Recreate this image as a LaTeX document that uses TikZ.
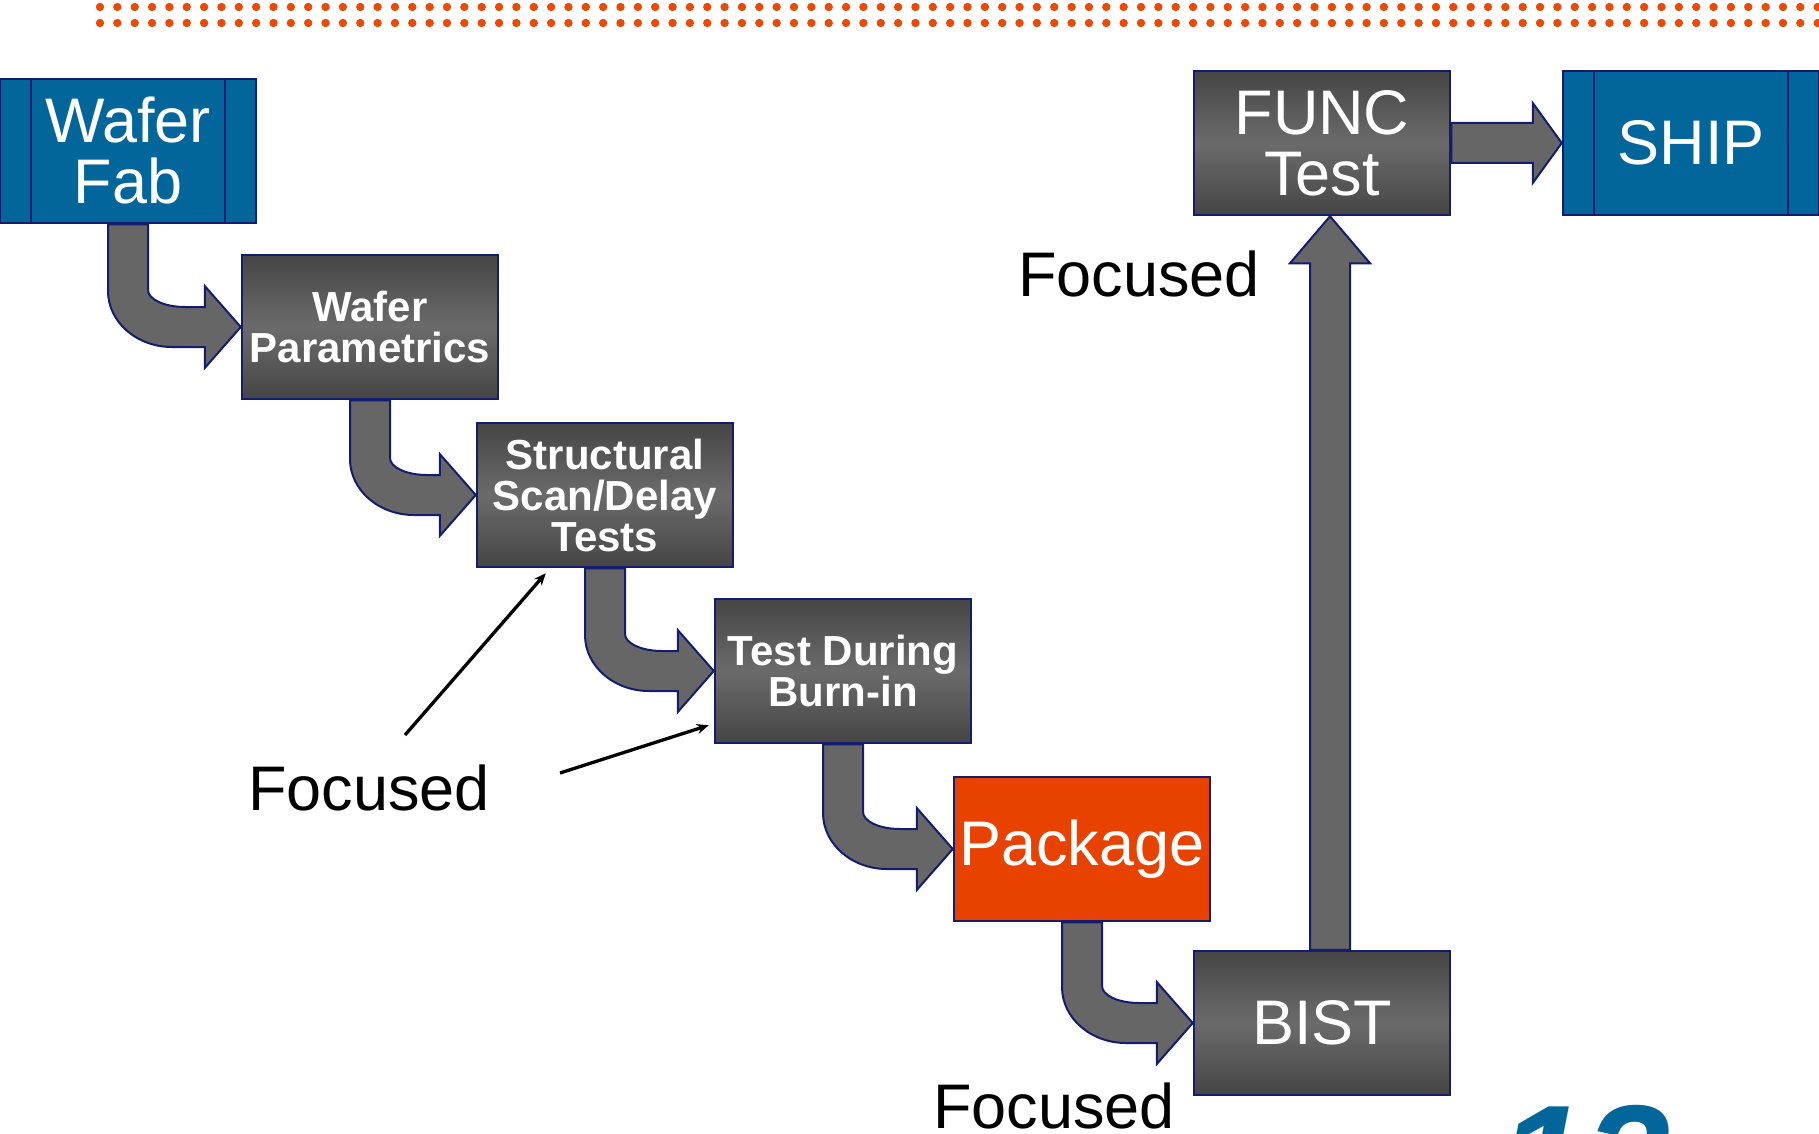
\documentclass[tikz,border=0pt]{standalone}
\usepackage{fontspec}
\setmainfont{Liberation Sans}
\usetikzlibrary{calc,arrows.meta}
\definecolor{fabblue}{HTML}{03669A}
\definecolor{pkgorange}{HTML}{E84200}
\definecolor{dotorange}{HTML}{E84A08}
\definecolor{edge}{HTML}{141C6E}
\definecolor{boxdark}{HTML}{454545}
\definecolor{boxlight}{HTML}{6B6B6B}
\definecolor{pipegray}{HTML}{666666}

\begin{document}
\begin{tikzpicture}[x=1pt, y=-1pt,
  stage/.style={draw=edge, line width=2.5pt, top color=boxdark, bottom color=boxdark, middle color=boxlight, minimum width=256pt, minimum height=144pt, inner sep=0pt, text=white, align=center},
  small/.style={font=\fontsize{42}{41}\selectfont\bfseries},
  big/.style={font=\fontsize{63}{61}\selectfont},
  endblock/.style={draw=edge, line width=2.5pt, fill=fabblue, minimum width=256pt, minimum height=144pt, inner sep=0pt, text=white, align=center, big,
    path picture={\draw[edge, line width=2pt] ([xshift=31pt]path picture bounding box.north west) -- ([xshift=31pt]path picture bounding box.south west)
      ([xshift=-31pt]path picture bounding box.north east) -- ([xshift=-31pt]path picture bounding box.south east);}},
  pipe/.style={draw=edge, line width=2pt, fill=pipegray, line join=miter},
  pointer/.style={-{Stealth[length=12pt,width=10pt]}, line width=3.3pt},
  label/.style={anchor=base, big}]
\clip (0,0) rectangle (1819,1134);

% dotted rule along the top
\foreach \i in {0,...,99} {
  \fill[dotorange] (100+17.35*\i,7) circle (4.2pt);
  \fill[dotorange] (100+17.35*\i,23) circle (4.2pt);
}

\node[endblock] (fab) at (128,151) {Wafer\\Fab};
\node[stage, small] (param) at (370,327) {Wafer\\Parametrics};
\node[stage, small] (scan) at (605,495) {Structural\\Scan/Delay\\Tests};
\node[stage, small] (burn) at (843,671) {Test During\\Burn-in};
\node[stage, big, fill=pkgorange, top color=pkgorange, bottom color=pkgorange, middle color=pkgorange] (pkg) at (1082,849) {Package};
\node[stage, big] (bist) at (1322,1023) {BIST};
\node[stage, big] (func) at (1322,143) {FUNC\\Test};
\node[endblock] (ship) at (1691,143) {SHIP};

% bent pipes down the staircase
\foreach \a/\b in {fab/param, param/scan, scan/burn, burn/pkg, pkg/bist} {
  \draw[pipe] let \p1=(\a.south), \p2=(\b.west) in
    (\x1-20pt,\y1) -- (\x1-20pt,\y2+36pt)
    arc[start angle=180, end angle=270, x radius=64pt, y radius=56pt]
    -- (\x2-36pt,\y2-20pt) -- (\x2-36pt,\y2-41pt) -- (\x2,\y2)
    -- (\x2-36pt,\y2+41pt) -- (\x2-36pt,\y2+20pt) -- (\x1+57pt,\y2+20pt)
    arc[start angle=270, end angle=180, x radius=37pt, y radius=17pt]
    -- (\x1+20pt,\y1) -- cycle;
}

% straight pipes up and across
\draw[pipe] let \p1=([xshift=8pt]bist.north), \p2=([xshift=8pt]func.south) in
  (\x1-20pt,\y1) -- (\x1-20pt,\y2-47pt) -- (\x1-40pt,\y2-47pt) -- (\x2,\y2)
  -- (\x1+40pt,\y2-47pt) -- (\x1+20pt,\y2-47pt) -- (\x1+20pt,\y1) -- cycle;
\draw[pipe] let \p1=(func.east), \p2=(ship.west) in
  (\x1,\y1+20pt) -- (\x2-29pt,\y1+20pt) -- (\x2-29pt,\y1+40pt) -- (\x2,\y2)
  -- (\x2-29pt,\y1-40pt) -- (\x2-29pt,\y1-20pt) -- (\x1,\y1-20pt) -- cycle;

\node[label] (focA) at (1139,296) {Focused};
\node[label] (focB) at (369,810) {Focused};
\node[label] (focC) at (1054,1128) {Focused};

\coordinate (ptA) at (405,735);
\coordinate (ptB) at (560,773);
\draw[pointer] (ptA) -- ([xshift=70pt,yshift=-5pt]scan.south west);
\draw[pointer] (ptB) -- ([xshift=-5pt,yshift=19pt]burn.south west);

\node[anchor=base west, text=fabblue, font=\fontsize{155}{155}\selectfont\bfseries\itshape] (slideno) at (1495,1213) {12};
\end{tikzpicture}
\end{document}
